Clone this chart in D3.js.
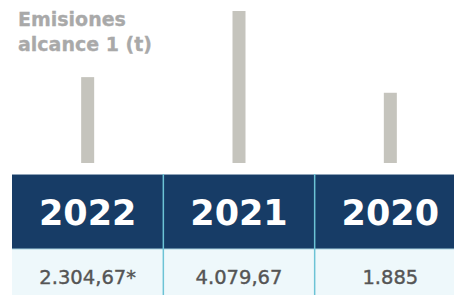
<!DOCTYPE html>
<meta charset="utf-8">
<style>
	body { margin: 0; background: #fff; }
	svg { display: block; }
</style>
<body>
<script src="https://d3js.org/d3.v7.min.js"></script>
<script>
	var years = ["2022", "2021", "2020"];
	var values = [2304.67, 4079.67, 1885];
	var valueLabels = ["2.304,67*", "4.079,67", "1.885"];
	var titleLines = ["Emisiones", "alcance 1 (t)"];

	var width = 454, height = 295;
	var tableTop = 174, headerBottom = 249, barBase = 163;

	var svg = d3.select("body").append("svg")
		.attr("width", width)
		.attr("height", height);

	var x = d3.scaleBand()
		.domain(years)
		.range([12, 466])
		.paddingInner(0);

	var y = d3.scaleLinear()
		.domain([0, d3.max(values)])
		.range([barBase, 11]);

	// title
	svg.append("g").selectAll("text")
		.data(titleLines)
		.enter().append("text")
		.attr("x", 18)
		.attr("y", function(d, i) { return 26 + i * 25; })
		.style("font", "bold 19px 'DejaVu Sans', sans-serif")
		.style("fill", "#a9a9a9")
		.style("stroke", "#a9a9a9")
		.style("stroke-width", 0.3)
		.text(function(d) { return d; });

	// bars
	svg.selectAll(".bar")
		.data(values)
		.enter().append("rect")
		.attr("class", "bar")
		.attr("x", function(d, i) { return x(years[i]) + x.bandwidth() / 2 - 6.5; })
		.attr("width", 13)
		.attr("y", function(d) { return y(d); })
		.attr("height", function(d) { return barBase - y(d); })
		.style("fill", "#c5c4bd");

	// table background
	svg.append("rect")
		.attr("x", 12).attr("y", headerBottom)
		.attr("width", 460).attr("height", height - headerBottom)
		.style("fill", "#eef8fb");
	svg.append("rect")
		.attr("x", 12).attr("y", tableTop)
		.attr("width", 460).attr("height", headerBottom - tableTop)
		.style("fill", "#173c66");
	svg.append("line")
		.attr("x1", 12).attr("x2", 472)
		.attr("y1", tableTop + 0.5).attr("y2", tableTop + 0.5)
		.style("stroke", "#8fa3b8");
	svg.append("line")
		.attr("x1", 12).attr("x2", 472)
		.attr("y1", headerBottom).attr("y2", headerBottom)
		.style("stroke", "#a9d3e0");

	// dividers
	svg.selectAll(".divider")
		.data(years.slice(1))
		.enter().append("line")
		.attr("class", "divider")
		.attr("x1", function(d) { return x(d); })
		.attr("x2", function(d) { return x(d); })
		.attr("y1", tableTop).attr("y2", height)
		.style("stroke", "#6cc3d5")
		.style("stroke-width", 1.5);

	// header years
	svg.selectAll(".year")
		.data(years)
		.enter().append("text")
		.attr("class", "year")
		.attr("x", function(d) { return x(d) + x.bandwidth() / 2; })
		.attr("y", 225)
		.attr("text-anchor", "middle")
		.style("font", "bold 35px 'DejaVu Sans', sans-serif")
		.style("fill", "#fff")
		.text(function(d) { return d; });

	// value row
	svg.selectAll(".val")
		.data(valueLabels)
		.enter().append("text")
		.attr("class", "val")
		.attr("x", function(d, i) { return x(years[i]) + x.bandwidth() / 2; })
		.attr("y", 284)
		.attr("text-anchor", "middle")
		.style("font", "19.5px 'DejaVu Sans', sans-serif")
		.style("fill", "#555")
		.style("stroke", "#555")
		.style("stroke-width", 0.4)
		.text(function(d) { return d; });
</script>
